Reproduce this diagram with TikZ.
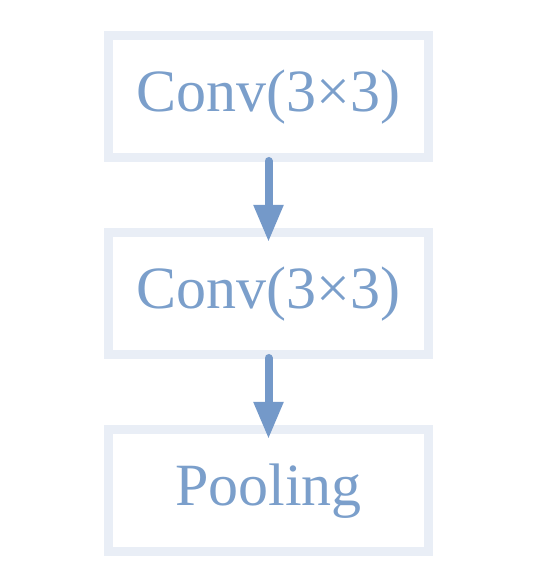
\documentclass[tikz,border=0pt]{standalone}
\usepackage{fontspec}
\setmainfont{Liberation Serif}
\usetikzlibrary{arrows.meta}
\definecolor{boxline}{HTML}{E9EEF6}
\definecolor{txtblue}{HTML}{7B9FCB}
\definecolor{arrblue}{HTML}{7499C9}
\begin{document}
\begin{tikzpicture}[x=1pt,y=1pt,
  blk/.style={draw=boxline, line width=9pt, minimum width=320pt, minimum height=122pt,
    inner sep=0pt, outer sep=0pt, text=txtblue, font=\fontsize{60}{66}\selectfont},
  arr/.style={draw=arrblue, line width=8pt, line cap=round,
    -{Triangle[width=28pt,length=37pt]}}]
\useasboundingbox (0,0) rectangle (532,588);
\node[blk] (b1) at (268.5,491) {Conv(3×3)};
\node[blk] (b2) at (268.5,294) {Conv(3×3)};
\node[blk] (b3) at (268.5,97) {Pooling};
\draw[arr] ([yshift=-3pt]b1.south) -- ([yshift=-9pt]b2.north);
\draw[arr] ([yshift=-3pt]b2.south) -- ([yshift=-9pt]b3.north);
\end{tikzpicture}
\end{document}
